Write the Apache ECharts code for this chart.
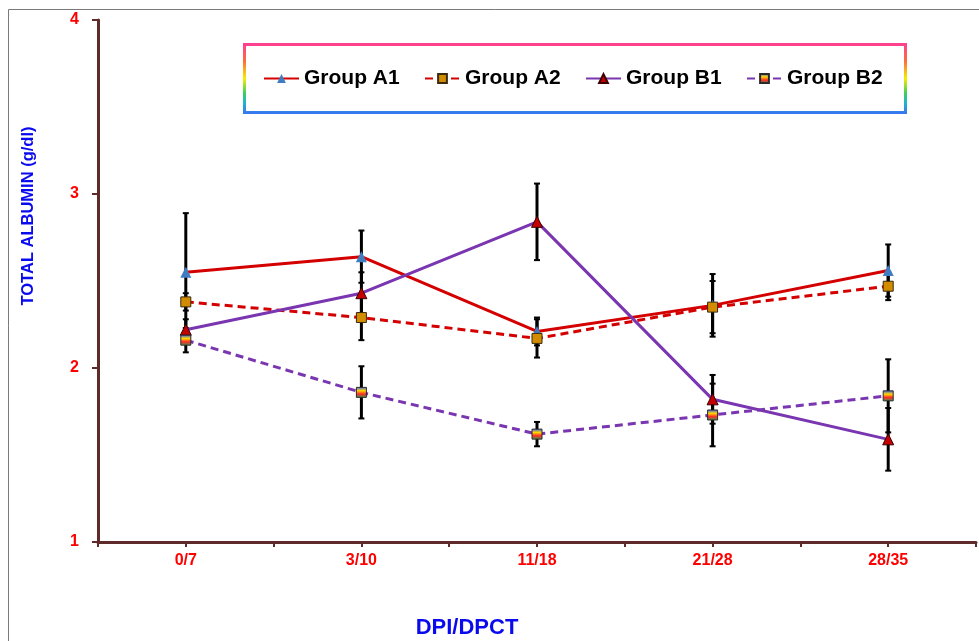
<!DOCTYPE html>
<html>
<head>
<meta charset="utf-8">
<script src="https://cdn.jsdelivr.net/npm/echarts@6/dist/echarts.min.js"></script>
<style>
  html, body { margin: 0; padding: 0; background: #ffffff; }
  #chart { width: 979px; height: 641px; }
</style>
</head>
<body>
<div id="chart"></div>
<script>
// Sampling days (DPI/DPCT) and mean total albumin (g/dl) with error half-widths
var categories = ['0/7', '3/10', '11/18', '21/28', '28/35'];
var yTicks = [1, 2, 3, 4];

var groupA1 = [2.55, 2.64, 2.21, 2.36, 2.56];
var groupA1Err = [0.34, 0.15, 0.08, 0.18, 0.15];
var groupA2 = [2.38, 2.29, 2.17, 2.35, 2.47];
var groupA2Err = [0.05, 0.13, 0.11, 0.15, 0.08];
var groupB1 = [2.22, 2.43, 2.84, 1.82, 1.59];
var groupB1Err = [0.06, 0.12, 0.22, 0.14, 0.18];
var groupB2 = [2.16, 1.86, 1.62, 1.73, 1.84];
var groupB2Err = [0.07, 0.15, 0.07, 0.18, 0.21];

var seriesNames = ['Group A1', 'Group A2', 'Group B1', 'Group B2'];

var RED = '#d40000';
var PURPLE = '#7a35b0';
var AXIS = '#5e2a2a';

function pts(values) {
  return values.map(function (v, i) { return [i, v]; });
}
function errData(values, errs) {
  return values.map(function (v, i) { return [i, v - errs[i], v + errs[i]]; });
}

function errorSeries(values, errs) {
  return {
    type: 'custom',
    z: 1,
    silent: true,
    data: errData(values, errs),
    renderItem: function (params, api) {
      var lo = api.coord([api.value(0), api.value(1)]);
      var hi = api.coord([api.value(0), api.value(2)]);
      var cap = 3;
      var st = { stroke: '#000000', lineWidth: 3 };
      var cs = { stroke: '#000000', lineWidth: 2 };
      return {
        type: 'group',
        children: [
          { type: 'line', shape: { x1: lo[0], y1: lo[1], x2: hi[0], y2: hi[1] }, style: st },
          { type: 'line', shape: { x1: lo[0] - cap, y1: lo[1], x2: lo[0] + cap, y2: lo[1] }, style: cs },
          { type: 'line', shape: { x1: hi[0] - cap, y1: hi[1], x2: hi[0] + cap, y2: hi[1] }, style: cs }
        ]
      };
    }
  };
}

var rainbowFill = new echarts.graphic.LinearGradient(0, 0, 0, 1, [
  { offset: 0, color: '#2f55ff' },
  { offset: 0.35, color: '#ffd800' },
  { offset: 0.65, color: '#ff2a2a' },
  { offset: 1, color: '#2fa84a' }
]);

var legendFont = { fontFamily: 'Liberation Sans, Arial, sans-serif', fontWeight: 'bold', fontSize: 21, color: '#000000' };
var legendLefts = [263, 424, 585, 746];

var legends = seriesNames.map(function (name, i) {
  return {
    data: [name],
    left: legendLefts[i],
    top: 68,
    itemWidth: 35,
    itemHeight: 11,
    itemGap: 0,
    padding: 0,
    selectedMode: false,
    textStyle: legendFont
  };
});

var option = {
  backgroundColor: '#ffffff',
  animation: false,
  grid: { left: 98, right: 0, top: 20, bottom: 99 },
  legend: legends,
  xAxis: {
    type: 'value',
    min: -0.5,
    max: 4.5,
    interval: 0.5,
    axisLine: { show: true, onZero: false, lineStyle: { color: AXIS, width: 3 } },
    axisTick: { show: true, length: 5, lineStyle: { color: AXIS, width: 2 } },
    splitLine: { show: false },
    axisLabel: {
      margin: 11,
      color: '#ff0000',
      fontFamily: 'Liberation Sans, Arial, sans-serif',
      fontWeight: 'bold',
      fontSize: 16,
      showMinLabel: true,
      showMaxLabel: true,
      formatter: function (v) {
        var i = Math.round(v * 2) / 2;
        return Number.isInteger(i) && categories[i] !== undefined ? categories[i] : '';
      }
    }
  },
  yAxis: {
    type: 'value',
    min: yTicks[0],
    max: yTicks[yTicks.length - 1],
    interval: 1,
    axisLine: { show: true, onZero: false, lineStyle: { color: AXIS, width: 3 } },
    axisTick: { show: true, length: 6, lineStyle: { color: AXIS, width: 2 } },
    splitLine: { show: false },
    axisLabel: {
      margin: 19,
      color: '#ff0000',
      fontFamily: 'Liberation Sans, Arial, sans-serif',
      fontWeight: 'bold',
      fontSize: 16
    }
  },
  graphic: [
    {
      type: 'rect',
      silent: true,
      shape: { x: 8.5, y: 9.5, width: 1200, height: 1200 },
      style: { fill: 'none', stroke: '#7a7a7a', lineWidth: 1 }
    },
    {
      type: 'rect',
      silent: true,
      z: -1,
      shape: { x: 244.5, y: 44.5, width: 661, height: 68 },
      style: {
        fill: '#ffffff',
        lineWidth: 3,
        stroke: new echarts.graphic.LinearGradient(0, 0, 0, 1, [
          { offset: 0, color: '#ff3e94' },
          { offset: 0.25, color: '#ff6a3c' },
          { offset: 0.5, color: '#f5ee00' },
          { offset: 0.7, color: '#3fd05a' },
          { offset: 0.85, color: '#1fb2d2' },
          { offset: 1, color: '#3a72f2' }
        ])
      }
    },
    {
      type: 'text',
      silent: true,
      x: 28,
      y: 216,
      rotation: Math.PI / 2,
      style: {
        text: 'TOTAL ALBUMIN (g/dl)',
        fill: '#0a0aee',
        font: 'bold 16.5px "Liberation Sans", Arial, sans-serif',
        textAlign: 'center',
        textVerticalAlign: 'middle'
      }
    },
    {
      type: 'text',
      silent: true,
      x: 467,
      y: 628,
      style: {
        text: 'DPI/DPCT',
        fill: '#0a0aee',
        font: 'bold 22px "Liberation Sans", Arial, sans-serif',
        textAlign: 'center',
        textVerticalAlign: 'middle'
      }
    }
  ],
  series: [
    errorSeries(groupA1, groupA1Err),
    errorSeries(groupA2, groupA2Err),
    errorSeries(groupB1, groupB1Err),
    errorSeries(groupB2, groupB2Err),
    {
      name: seriesNames[0],
      type: 'line',
      z: 3,
      data: pts(groupA1),
      symbol: 'triangle',
      symbolSize: 11,
      lineStyle: { color: RED, width: 3 },
      itemStyle: { color: '#3f7cc0', borderColor: '#3f7cc0', borderWidth: 0 }
    },
    {
      name: seriesNames[1],
      type: 'line',
      z: 3,
      data: pts(groupA2),
      symbol: 'rect',
      symbolSize: 10,
      lineStyle: { color: RED, width: 3, type: [8, 5] },
      itemStyle: { color: '#d28c00', borderColor: '#3a2a10', borderWidth: 1 }
    },
    {
      name: seriesNames[2],
      type: 'line',
      z: 3,
      data: pts(groupB1),
      symbol: 'triangle',
      symbolSize: 11,
      lineStyle: { color: PURPLE, width: 3 },
      itemStyle: { color: '#c40000', borderColor: '#3a0000', borderWidth: 1 }
    },
    {
      name: seriesNames[3],
      type: 'line',
      z: 3,
      data: pts(groupB2),
      symbol: 'rect',
      symbolSize: 10,
      lineStyle: { color: PURPLE, width: 3, type: [8, 5] },
      itemStyle: { color: rainbowFill, borderColor: '#2a2a2a', borderWidth: 1 }
    }
  ]
};

var chart = echarts.init(document.getElementById('chart'), null, { renderer: 'canvas' });
chart.setOption(option);
</script>
</body>
</html>
